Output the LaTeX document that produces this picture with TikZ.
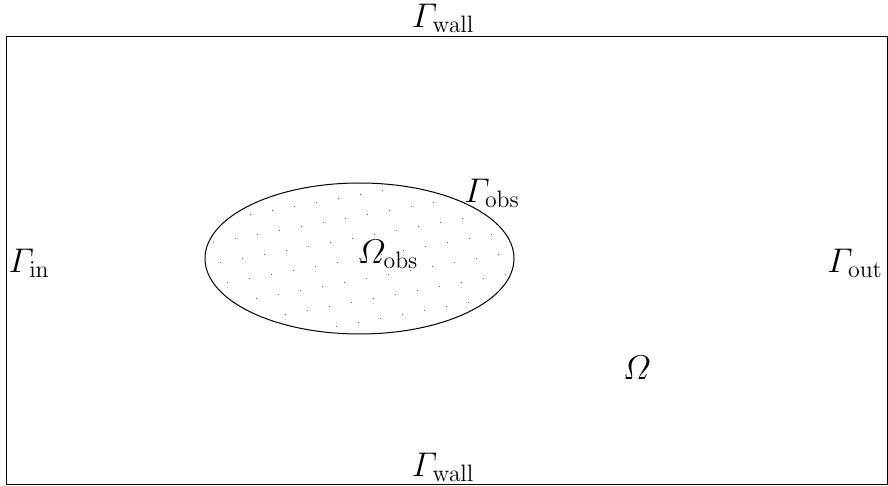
\documentclass[tikz,border=0pt]{standalone}
\usepackage{amsmath}
\usetikzlibrary{shapes.geometric}
\begin{document}
\begin{tikzpicture}[x=1pt,y=-1pt,
  lbl/.style={font=\fontsize{20.74}{25}\selectfont, inner sep=0pt, scale=1.65}]
\useasboundingbox (0,0) rectangle (888,486);
\node[draw, line width=1pt, minimum width=881pt, minimum height=448pt, anchor=north west, inner sep=0pt] (dom) at (6,36) {};
\node[draw, line width=1pt, ellipse, minimum width=309pt, minimum height=151pt, inner sep=0pt] (obs) at (359.5,258.5) {};
\begin{scope}
  \clip (359.5,258.5) ellipse [x radius=150, y radius=71];
  \foreach \i in {-10,...,10}{
    \foreach \j in {-6,...,6}{
      \fill[black!80] (359.5+\i*22+\j*7, 258.5-\i*4+\j*20) circle (0.5);
    }
  }
\end{scope}
\node[lbl] (gwt) at (443,18) {$\varGamma_{\mathrm{wall}}$};
\node[lbl] (gwb) at (443,467.5) {$\varGamma_{\mathrm{wall}}$};
\node[lbl] (gin) at (29,263) {$\varGamma_{\mathrm{in}}$};
\node[lbl] (gout) at (855,263) {$\varGamma_{\mathrm{out}}$};
\node[lbl] (oobs) at (388,254) {$\varOmega_{\mathrm{obs}}$};
\node[lbl] (gobs) at (492,193) {$\varGamma_{\mathrm{obs}}$};
\node[lbl] (om) at (637,368) {$\varOmega$};
\end{tikzpicture}
\end{document}
